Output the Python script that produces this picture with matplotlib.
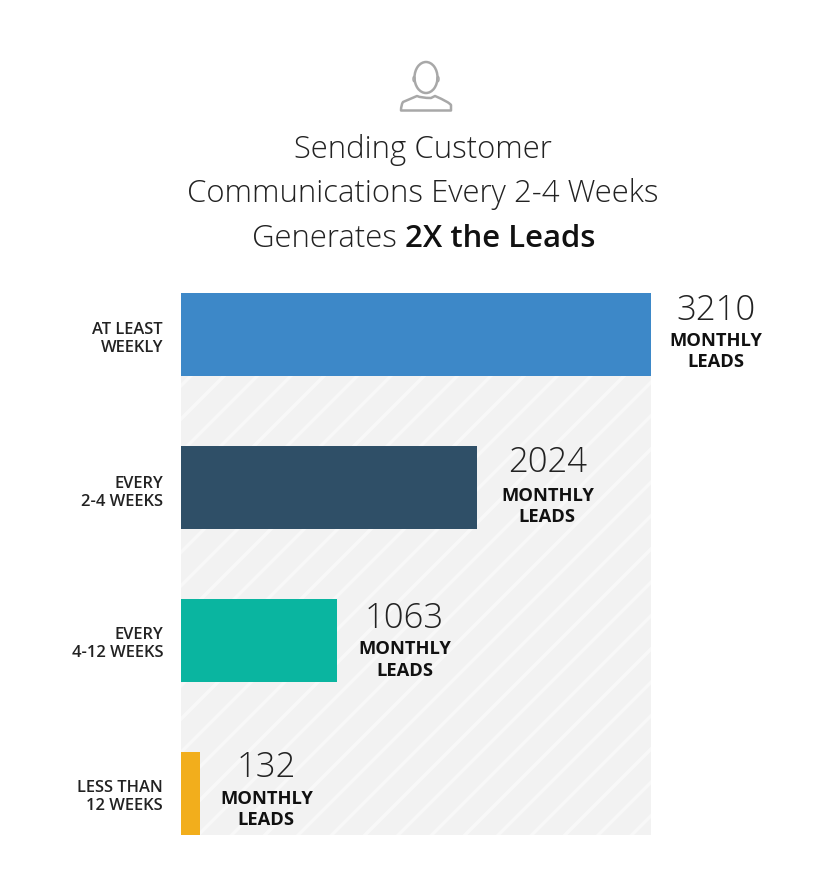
import matplotlib
matplotlib.use('Agg')
import matplotlib.pyplot as plt
from matplotlib.path import Path
from matplotlib.patches import PathPatch, Ellipse, Rectangle

plt.rcParams['font.family'] = ['Open Sans', 'DejaVu Sans']
plt.rcParams['hatch.linewidth'] = 1.26

categories = ['AT LEAST\nWEEKLY', 'EVERY\n2-4 WEEKS', 'EVERY\n4-12 WEEKS', 'LESS THAN\n12 WEEKS']
leads = [3210, 2024, 1063, 132]
bar_colors = ['#3d88c8', '#2f4f67', '#0ab5a0', '#f2ae1c']
value_label = 'MONTHLY\nLEADS'

W, H, DPI = 827, 881, 200


def pt(px):
    # font sizes are worked out in output pixels
    return px * 72 / DPI


fig = plt.figure(figsize=(W / DPI, H / DPI), dpi=DPI, facecolor='white')

# overlay in pixel coords for title and icon
bg = fig.add_axes([0, 0, 1, 1])
bg.set_xlim(0, W)
bg.set_ylim(H, 0)
bg.axis('off')

# person icon
icon = '#a8a8a8'
bg.add_patch(Ellipse((426, 77.5), 23, 31, fill=False, ec=icon, lw=pt(2.5)))
bg.add_patch(Ellipse((414, 79), 2, 5, fill=False, ec=icon, lw=pt(1.5)))
bg.add_patch(Ellipse((438, 79), 2, 5, fill=False, ec=icon, lw=pt(1.5)))
shoulders = Path(
    [(401, 110.5), (401, 105), (403, 102), (417, 96), (421, 98), (431, 98), (435, 96),
     (449, 102), (451, 105), (451, 110.5), (401, 110.5)],
    [Path.MOVETO, Path.CURVE3, Path.CURVE3, Path.LINETO, Path.CURVE3, Path.CURVE3, Path.LINETO,
     Path.CURVE3, Path.CURVE3, Path.LINETO, Path.CLOSEPOLY])
bg.add_patch(PathPatch(shoulders, fill=False, ec=icon, lw=pt(2.5), joinstyle='round'))

# title
title_size = pt(31.2)
bg.text(423, 150, 'Sending Customer', ha='center', va='center', fontsize=title_size, weight=300, color='#222222')
bg.text(423, 194, 'Communications Every 2-4 Weeks', ha='center', va='center', fontsize=title_size, weight=300, color='#222222')
bg.text(405, 239, 'Generates ', ha='right', va='center', fontsize=title_size, weight=300, color='#222222')
bg.text(405, 239, '2X the Leads', ha='left', va='center', fontsize=title_size, weight=600, color='#111111')

# chart area
ax = fig.add_axes([181 / W, 1 - 835 / H, 470 / W, (835 - 293) / H])
ax.set_xlim(0, max(leads))
ax.set_ylim(3.27, -0.27)
ax.axis('off')
ax.add_patch(Rectangle((0, 0), 1, 1, transform=ax.transAxes, fc='#f2f2f2', ec='#f8f8f8', hatch='//', lw=0, zorder=0))

y = list(range(len(leads)))
ax.barh(y, leads, height=0.54, color=bar_colors, zorder=2)

# label nudges per row, in pixels
label_gap = [65, 70, 68, 66]
cat_dy = [-5, -6, -3, -3]
val_dy = [24, 25, 22, 26]
unit_dy = [-17, -19, -19.5, -16]
for i, (cat, val) in enumerate(zip(categories, leads)):
    ax.annotate(cat, (0, i), xytext=(pt(-18), pt(cat_dy[i])), textcoords='offset points', ha='right', va='center',
                fontsize=pt(16.5), weight=600, color='#222222', linespacing=1.17, annotation_clip=False)
    ax.annotate(str(val), (val, i), xytext=(pt(label_gap[i]), pt(val_dy[i])), textcoords='offset points', ha='center',
                va='center', fontsize=pt(34.7), weight=300, color='#222222', annotation_clip=False)
    ax.annotate(value_label, (val, i), xytext=(pt(label_gap[i]), pt(unit_dy[i])), textcoords='offset points', ha='center',
                va='center', fontsize=pt(18.4), weight=700, color='#111111', linespacing=1.25, annotation_clip=False)

fig.savefig('out.png', dpi=DPI, facecolor='white')
